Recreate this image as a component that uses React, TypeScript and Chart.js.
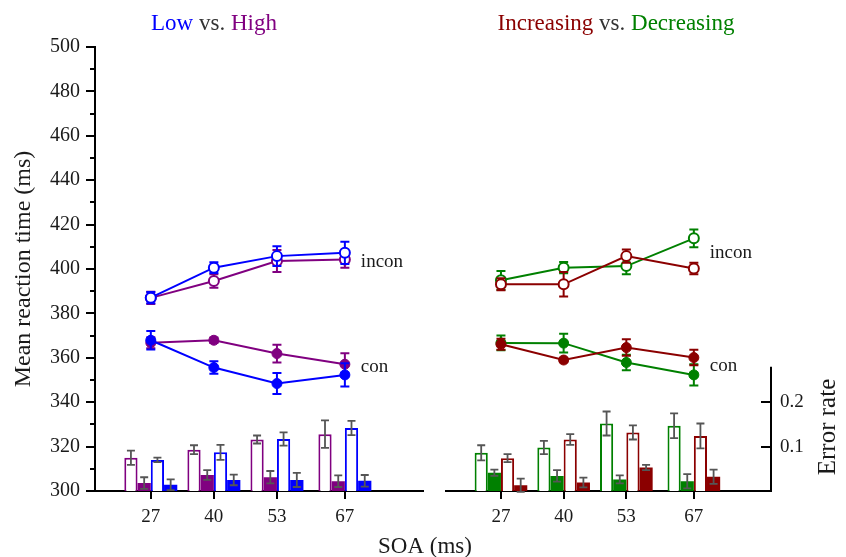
import { useEffect, useRef } from 'react';
import { Chart, registerables } from 'chart.js';

Chart.register(...registerables);

const SERIF = "'Liberation Serif', 'Times New Roman', Times, serif";

// Stimulus onset asynchrony conditions (ms)
const SOA = [27, 40, 53, 67];
const RT_MINOR_TICKS = [310, 330, 350, 370, 390, 410, 430, 450, 470, 490];
const ERR_TICKS = [0.1, 0.2];

// Low vs. High: mean reaction time (ms) and SE
const lowInconRT = [387.1, 400.6, 405.8, 407.3];
const lowInconRTSE = [2.5, 2.4, 4.5, 5.0];
const highInconRT = [387.0, 394.6, 403.6, 404.3];
const highInconRTSE = [2.8, 3.0, 5.0, 3.7];
const lowConRT = [367.9, 355.6, 348.4, 352.3];
const lowConRTSE = [4.2, 2.8, 4.7, 5.2];
const highConRT = [366.8, 367.9, 361.9, 357.1];
const highConRTSE = [2.5, 1.2, 4.0, 5.0];

// Low vs. High: error rate and SE
const highInconErr = [0.075, 0.093, 0.116, 0.128];
const highInconErrSE = [0.016, 0.01, 0.009, 0.031];
const highConErr = [0.018, 0.036, 0.031, 0.022];
const highConErrSE = [0.013, 0.011, 0.014, 0.013];
const lowInconErr = [0.07, 0.087, 0.117, 0.142];
const lowInconErrSE = [0.005, 0.017, 0.015, 0.016];
const lowConErr = [0.014, 0.025, 0.025, 0.023];
const lowConErrSE = [0.012, 0.012, 0.016, 0.013];

// Increasing vs. Decreasing: mean reaction time (ms) and SE
const incInconRT = [393.1, 393.1, 405.8, 400.2];
const incInconRTSE = [2.7, 5.5, 3.0, 2.6];
const decInconRT = [394.9, 400.6, 401.3, 413.8];
const decInconRTSE = [4.2, 2.5, 3.7, 4.0];
const incConRT = [366.1, 359.0, 364.6, 360.1];
const incConRTSE = [2.5, 1.0, 3.7, 3.5];
const decConRT = [366.7, 366.6, 357.9, 352.3];
const decConRTSE = [3.3, 4.2, 3.5, 4.8];

// Increasing vs. Decreasing: error rate and SE
const decInconErr = [0.086, 0.098, 0.152, 0.147];
const decInconErrSE = [0.017, 0.015, 0.027, 0.028];
const decConErr = [0.041, 0.034, 0.026, 0.022];
const decConErrSE = [0.007, 0.013, 0.009, 0.016];
const incInconErr = [0.074, 0.116, 0.132, 0.124];
const incInconErrSE = [0.009, 0.012, 0.016, 0.028];
const incConErr = [0.013, 0.019, 0.053, 0.032];
const incConErrSE = [0.015, 0.011, 0.006, 0.016];

// Curve labels beside the last SOA, with the RT level they sit at
const CURVE_LABELS = ['incon', 'con'];
const leftLabelRT = [403.0, 355.8];
const rightLabelRT = [407.0, 356.2];

const BLUE = '#0000ff';
const PURPLE = '#800080';
const DARKRED = '#8b0000';
const GREEN = '#008000';
const BAR_ERR = '#555555';
const TEXT = '#1a1a1a';

const W = 846;
const H = 557;
const X_MIN = 15.5;
const X_MAX = 83;
const ERR_AXIS_TOP = 0.28;

function pts(values: number[]) {
  return SOA.map((x, i) => ({ x, y: values[i] }));
}

function lineDs(label: string, values: number[], se: number[], color: string, filled: boolean, order: number) {
  return {
    type: 'line',
    label,
    data: pts(values),
    errors: se,
    errorColor: color,
    errorWidth: 2,
    capHalf: 4.5,
    yAxisID: 'y',
    borderColor: color,
    borderWidth: 2,
    backgroundColor: color,
    tension: 0,
    pointRadius: 5,
    pointBorderWidth: filled ? 1 : 2,
    pointBackgroundColor: filled ? color : '#ffffff',
    pointBorderColor: color,
    order,
    clip: false,
  };
}

function barDs(label: string, values: number[], se: number[], color: string, filled: boolean) {
  return {
    type: 'bar',
    label,
    data: pts(values),
    errors: se,
    errorColor: BAR_ERR,
    errorWidth: 1.8,
    capHalf: 4,
    yAxisID: 'yErr',
    backgroundColor: filled ? color : '#ffffff',
    borderColor: color,
    borderWidth: filled ? 0 : 2,
    categoryPercentage: 0.84,
    barPercentage: 1,
    order: 10,
  };
}

function drawErrors(chart: any, index: number, kind: string) {
  const ds = chart.data.datasets[index];
  if (!ds || !ds.errors) return;
  const type = ds.type || chart.config.type;
  if (type !== kind) return;
  const meta = chart.getDatasetMeta(index);
  const ys = chart.scales[meta.yAxisID];
  const ctx = chart.ctx;
  ctx.save();
  ctx.strokeStyle = ds.errorColor;
  ctx.lineWidth = ds.errorWidth;
  meta.data.forEach((el: any, i: number) => {
    const v = ds.data[i].y;
    const e = ds.errors[i];
    const x = el.x;
    const yt = ys.getPixelForValue(v + e);
    const yb = ys.getPixelForValue(v - e);
    const c = ds.capHalf;
    ctx.beginPath();
    ctx.moveTo(x, yt);
    ctx.lineTo(x, yb);
    ctx.moveTo(x - c, yt);
    ctx.lineTo(x + c, yt);
    ctx.moveTo(x - c, yb);
    ctx.lineTo(x + c, yb);
    ctx.stroke();
  });
  ctx.restore();
}

const errorBars = {
  id: 'errorBars',
  beforeDatasetDraw(chart: any, args: any) {
    drawErrors(chart, args.index, 'line');
  },
  afterDatasetDraw(chart: any, args: any) {
    drawErrors(chart, args.index, 'bar');
  },
};

type Part = { t: string; c: string };

function richText(ctx: CanvasRenderingContext2D, parts: Part[], cx: number, y: number) {
  const total = parts.reduce((s, p) => s + ctx.measureText(p.t).width, 0);
  let x = cx - total / 2;
  ctx.textAlign = 'left';
  ctx.textBaseline = 'alphabetic';
  parts.forEach((p) => {
    ctx.fillStyle = p.c;
    ctx.fillText(p.t, x, y);
    x += ctx.measureText(p.t).width;
  });
}

type DecorSpec = {
  title: Part[];
  titleX: number;
  labelRT: number[];
  minorTicks?: boolean;
  xTitle?: boolean;
  errAxis?: boolean;
};

function decorations(spec: DecorSpec) {
  return {
    id: 'decor',
    afterDraw(chart: any) {
      const ctx: CanvasRenderingContext2D = chart.ctx;
      const area = chart.chartArea;
      const xs = chart.scales.x;
      const ys = chart.scales.y;
      ctx.save();
      ctx.strokeStyle = '#000';
      ctx.lineWidth = 2;
      if (spec.minorTicks) {
        ctx.beginPath();
        RT_MINOR_TICKS.forEach((v) => {
          const py = Math.round(ys.getPixelForValue(v));
          ctx.moveTo(area.left - 5, py);
          ctx.lineTo(area.left, py);
        });
        ctx.stroke();
      }
      if (spec.errAxis) {
        const es = chart.scales.yErr;
        const xr = area.right;
        ctx.beginPath();
        ctx.moveTo(xr, es.getPixelForValue(ERR_AXIS_TOP));
        ctx.lineTo(xr, es.getPixelForValue(0) + 1);
        ERR_TICKS.forEach((v) => {
          const py = Math.round(es.getPixelForValue(v));
          ctx.moveTo(xr - 10, py);
          ctx.lineTo(xr, py);
        });
        ctx.stroke();
        ctx.font = `25px ${SERIF}`;
        ctx.fillStyle = TEXT;
        ctx.translate(828, 427);
        ctx.rotate(-Math.PI / 2);
        ctx.textAlign = 'center';
        ctx.textBaseline = 'middle';
        ctx.fillText('Error rate', 0, 0);
        ctx.setTransform(1, 0, 0, 1, 0, 0);
      }
      ctx.font = `23px ${SERIF}`;
      richText(ctx, spec.title, spec.titleX, 30);
      ctx.font = `19px ${SERIF}`;
      ctx.fillStyle = TEXT;
      ctx.textAlign = 'left';
      ctx.textBaseline = 'alphabetic';
      const lx = xs.getPixelForValue(SOA[SOA.length - 1]) + 16;
      CURVE_LABELS.forEach((t, i) => {
        ctx.fillText(t, lx, ys.getPixelForValue(spec.labelRT[i]) + 5);
      });
      if (spec.xTitle) {
        ctx.font = `23px ${SERIF}`;
        ctx.textAlign = 'center';
        ctx.fillText('SOA (ms)', 425, 553);
      }
      ctx.restore();
    },
  };
}

function xAxis() {
  return {
    type: 'linear',
    position: 'bottom',
    min: X_MIN,
    max: X_MAX,
    offset: false,
    z: 1,
    afterBuildTicks: (s: any) => {
      s.ticks = SOA.map((v) => ({ value: v }));
    },
    afterFit: (s: any) => {
      s.height = 66;
    },
    grid: { drawOnChartArea: false, offset: false, tickLength: 8, color: '#000', lineWidth: 2 },
    border: { color: '#000', width: 2 },
    ticks: {
      font: { family: SERIF, size: 19 },
      color: TEXT,
      padding: 7,
      maxRotation: 0,
      autoSkip: false,
      callback: (v: any) => String(v),
    },
  };
}

function baseOptions(padding: any, scales: any) {
  return {
    responsive: false,
    maintainAspectRatio: false,
    animation: false,
    devicePixelRatio: 1,
    events: [],
    layout: { padding },
    plugins: { legend: { display: false }, tooltip: { enabled: false } },
    scales,
  };
}

function leftConfig(): any {
  return {
    type: 'bar',
    data: {
      datasets: [
        lineDs('Low incon', lowInconRT, lowInconRTSE, BLUE, false, 0),
        lineDs('Low con', lowConRT, lowConRTSE, BLUE, true, 0),
        lineDs('High incon', highInconRT, highInconRTSE, PURPLE, false, 1),
        lineDs('High con', highConRT, highConRTSE, PURPLE, true, 1),
        barDs('High incon error', highInconErr, highInconErrSE, PURPLE, false),
        barDs('High con error', highConErr, highConErrSE, PURPLE, true),
        barDs('Low incon error', lowInconErr, lowInconErrSE, BLUE, false),
        barDs('Low con error', lowConErr, lowConErrSE, BLUE, true),
      ],
    },
    options: baseOptions(
      { top: 47, left: 0, bottom: 0, right: W - 422.5 },
      {
        x: xAxis(),
        y: {
          type: 'linear',
          position: 'left',
          min: 300,
          max: 500,
          afterFit: (s: any) => {
            s.width = 95;
          },
          ticks: { stepSize: 20, font: { family: SERIF, size: 20 }, color: TEXT, padding: 6 },
          grid: { drawOnChartArea: false, tickLength: 9, color: '#000', lineWidth: 2 },
          border: { color: '#000', width: 2 },
          title: {
            display: true,
            text: 'Mean reaction time (ms)',
            font: { family: SERIF, size: 24 },
            color: TEXT,
            padding: { top: 9, bottom: 0 },
          },
        },
        yErr: { type: 'linear', display: false, min: 0, max: 1 },
      }
    ),
    plugins: [
      errorBars,
      decorations({
        title: [
          { t: 'Low', c: BLUE },
          { t: ' vs. ', c: '#333333' },
          { t: 'High', c: PURPLE },
        ],
        titleX: 214,
        labelRT: leftLabelRT,
        minorTicks: true,
        xTitle: true,
      }),
    ],
  };
}

function rightConfig(): any {
  return {
    type: 'bar',
    data: {
      datasets: [
        lineDs('Increasing incon', incInconRT, incInconRTSE, DARKRED, false, 0),
        lineDs('Increasing con', incConRT, incConRTSE, DARKRED, true, 0),
        lineDs('Decreasing incon', decInconRT, decInconRTSE, GREEN, false, 1),
        lineDs('Decreasing con', decConRT, decConRTSE, GREEN, true, 1),
        barDs('Decreasing incon error', decInconErr, decInconErrSE, GREEN, false),
        barDs('Decreasing con error', decConErr, decConErrSE, GREEN, true),
        barDs('Increasing incon error', incInconErr, incInconErrSE, DARKRED, false),
        barDs('Increasing con error', incConErr, incConErrSE, DARKRED, true),
      ],
    },
    options: baseOptions(
      { top: 47, left: 445.5, bottom: 0, right: 0 },
      {
        x: xAxis(),
        y: { type: 'linear', display: false, min: 300, max: 500 },
        yErr: {
          type: 'linear',
          position: 'right',
          min: 0,
          max: 1,
          afterBuildTicks: (s: any) => {
            s.ticks = ERR_TICKS.map((v) => ({ value: v }));
          },
          afterFit: (s: any) => {
            s.width = W - 771;
          },
          grid: { display: false, drawTicks: false },
          border: { display: false },
          ticks: {
            font: { family: SERIF, size: 19 },
            color: TEXT,
            padding: 9,
            callback: (v: any) => Number(v).toFixed(1),
          },
        },
      }
    ),
    plugins: [
      errorBars,
      decorations({
        title: [
          { t: 'Increasing', c: DARKRED },
          { t: ' vs. ', c: '#333333' },
          { t: 'Decreasing', c: GREEN },
        ],
        titleX: 616,
        labelRT: rightLabelRT,
        errAxis: true,
      }),
    ],
  };
}

export default function App() {
  const leftRef = useRef<HTMLCanvasElement | null>(null);
  const rightRef = useRef<HTMLCanvasElement | null>(null);

  useEffect(() => {
    const charts: Chart[] = [];
    if (leftRef.current) charts.push(new Chart(leftRef.current, leftConfig()));
    if (rightRef.current) charts.push(new Chart(rightRef.current, rightConfig()));
    return () => charts.forEach((c) => c.destroy());
  }, []);

  const canvasStyle: React.CSSProperties = { position: 'absolute', left: 0, top: 0, display: 'block' };

  return (
    <div style={{ position: 'absolute', left: 0, top: 0, width: W, height: H, background: '#ffffff', overflow: 'hidden' }}>
      <canvas ref={leftRef} width={W} height={H} style={{ ...canvasStyle, width: W, height: H }} />
      <canvas ref={rightRef} width={W} height={H} style={{ ...canvasStyle, width: W, height: H }} />
    </div>
  );
}
